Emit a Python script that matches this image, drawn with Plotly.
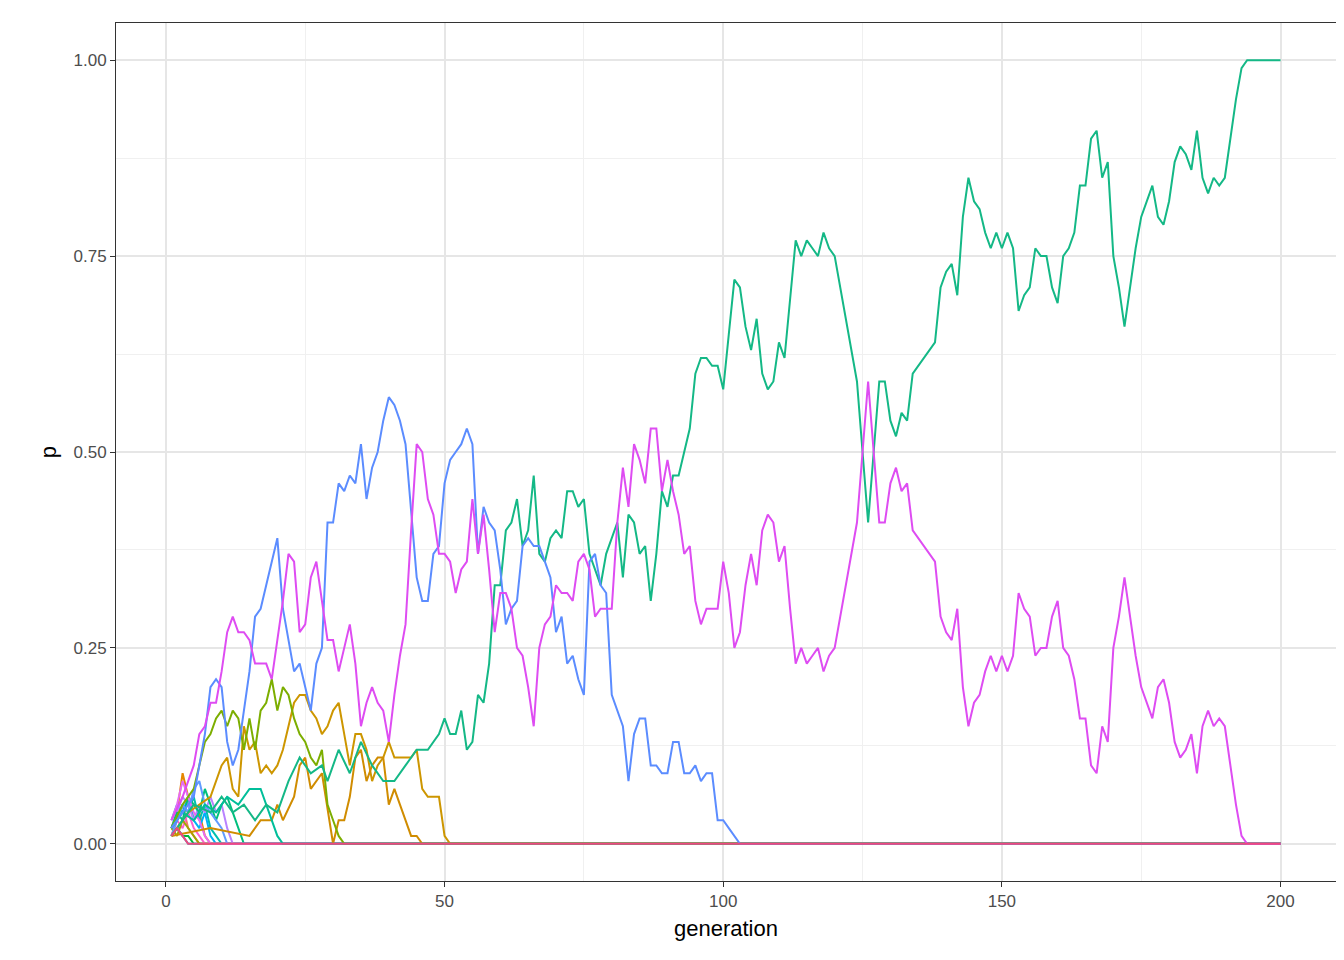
import plotly.graph_objects as go

# generation -> allele frequency at knot generations
green_gen = [1, 3, 5, 8, 10, 12, 14, 16, 18, 20, 22, 24, 26, 28, 29, 31, 33, 35, 37, 39, 41, 43, 45, 47, 49, 50,
             51, 52, 53, 54, 55, 56, 57, 58, 59, 60, 61, 62, 63, 64, 65, 66, 67, 68, 69, 70, 71, 72, 73, 74, 75,
             76, 77, 78, 79, 80, 81, 82, 83, 84, 85, 86, 87, 88, 89, 90, 91, 92, 93, 94, 95, 96, 97, 98, 99, 100,
             101, 102, 103, 104, 105, 106, 107, 108, 109, 110, 111, 112, 113, 114, 115, 116, 117, 118, 119, 120,
             122, 124, 125, 126, 127, 128, 129, 130, 131, 132, 133, 134, 138, 139, 140, 141, 142, 143, 144, 145,
             146, 147, 148, 149, 150, 151, 152, 153, 154, 155, 156, 157, 158, 159, 160, 161, 162, 163, 164, 165,
             166, 167, 168, 169, 170, 171, 172, 173, 174, 175, 176, 177, 178, 179, 180, 181, 182, 183, 184, 185,
             186, 187, 188, 189, 190, 191, 192, 193, 194, 200]
green_p = [0.01, 0.03, 0.05, 0.04, 0.06, 0.04, 0.05, 0.03, 0.05, 0.04, 0.08, 0.11, 0.09, 0.1, 0.08, 0.12, 0.09,
           0.13, 0.1, 0.08, 0.08, 0.1, 0.12, 0.12, 0.14, 0.16, 0.14, 0.14, 0.17, 0.12, 0.13, 0.19, 0.18, 0.23,
           0.33, 0.33, 0.4, 0.41, 0.44, 0.38, 0.4, 0.47, 0.37, 0.36, 0.39, 0.4, 0.39, 0.45, 0.45, 0.43, 0.44,
           0.37, 0.35, 0.33, 0.37, 0.39, 0.41, 0.34, 0.42, 0.41, 0.37, 0.38, 0.31, 0.37, 0.45, 0.43, 0.47, 0.47,
           0.5, 0.53, 0.6, 0.62, 0.62, 0.61, 0.61, 0.58, 0.65, 0.72, 0.71, 0.66, 0.63, 0.67, 0.6, 0.58, 0.59,
           0.64, 0.62, 0.7, 0.77, 0.75, 0.77, 0.76, 0.75, 0.78, 0.76, 0.75, 0.67, 0.59, 0.5, 0.41, 0.5, 0.59,
           0.59, 0.54, 0.52, 0.55, 0.54, 0.6, 0.64, 0.71, 0.73, 0.74, 0.7, 0.8, 0.85, 0.82, 0.81, 0.78, 0.76,
           0.78, 0.76, 0.78, 0.76, 0.68, 0.7, 0.71, 0.76, 0.75, 0.75, 0.71, 0.69, 0.75, 0.76, 0.78, 0.84, 0.84,
           0.9, 0.91, 0.85, 0.87, 0.75, 0.71, 0.66, 0.71, 0.76, 0.8, 0.82, 0.84, 0.8, 0.79, 0.82, 0.87, 0.89,
           0.88, 0.86, 0.91, 0.85, 0.83, 0.85, 0.84, 0.85, 0.9, 0.95, 0.99, 1.0, 1.0]

magenta_gen = list(range(1, 121)) + [122, 124, 125, 126, 127, 128, 129, 130, 131, 132, 133, 134] + list(range(138, 195)) + [200]
magenta_gen = [g for g in magenta_gen if g not in (2, 4)]
magenta_p = [0.03, 0.06, 0.1, 0.14, 0.15, 0.18, 0.18, 0.22, 0.27, 0.29, 0.27, 0.27, 0.26, 0.23, 0.23, 0.23, 0.21,
             0.26, 0.31, 0.37, 0.36, 0.27, 0.28, 0.34, 0.36, 0.31, 0.26, 0.26, 0.22, 0.25, 0.28, 0.23, 0.15, 0.18,
             0.2, 0.18, 0.17, 0.13, 0.19, 0.24, 0.28, 0.4, 0.51, 0.5, 0.44, 0.42, 0.37, 0.37, 0.36, 0.32, 0.35,
             0.36, 0.44, 0.37, 0.42, 0.35, 0.27, 0.32, 0.32, 0.3, 0.25, 0.24, 0.2, 0.15, 0.25, 0.28, 0.29, 0.33,
             0.32, 0.32, 0.31, 0.36, 0.37, 0.35, 0.29, 0.3, 0.3, 0.3, 0.41, 0.48, 0.43, 0.51, 0.49, 0.46, 0.53,
             0.53, 0.45, 0.49, 0.45, 0.42, 0.37, 0.38, 0.31, 0.28, 0.3, 0.3, 0.3, 0.36, 0.32, 0.25, 0.27, 0.33,
             0.37, 0.33, 0.4, 0.42, 0.41, 0.36, 0.38, 0.3, 0.23, 0.25, 0.23, 0.24, 0.25, 0.22, 0.24, 0.25,
             0.33, 0.41, 0.5, 0.59, 0.5, 0.41, 0.41, 0.46, 0.48, 0.45, 0.46, 0.4,
             0.36, 0.29, 0.27, 0.26, 0.3, 0.2, 0.15, 0.18, 0.19, 0.22, 0.24, 0.22, 0.24, 0.22, 0.24, 0.32, 0.3,
             0.29, 0.24, 0.25, 0.25, 0.29, 0.31, 0.25, 0.24, 0.21, 0.16, 0.16, 0.1, 0.09, 0.15, 0.13, 0.25, 0.29,
             0.34, 0.29, 0.24, 0.2, 0.18, 0.16, 0.2, 0.21, 0.18, 0.13, 0.11, 0.12, 0.14, 0.09, 0.15, 0.17, 0.15,
             0.16, 0.15, 0.1, 0.05, 0.01, 0.0, 0.0]

blue_gen = [1, 3, 5] + list(range(6, 104)) + [200]
blue_p = [0.02, 0.04, 0.06, 0.1, 0.14, 0.2, 0.21, 0.2, 0.13, 0.1, 0.12, 0.17, 0.22, 0.29, 0.3, 0.33, 0.36, 0.39,
          0.3, 0.26, 0.22, 0.23, 0.2, 0.17, 0.23, 0.25, 0.41, 0.41, 0.46, 0.45, 0.47, 0.46, 0.51, 0.44, 0.48,
          0.5, 0.54, 0.57, 0.56, 0.54, 0.51, 0.42, 0.34, 0.31, 0.31, 0.37, 0.38, 0.46, 0.49, 0.5, 0.51, 0.53,
          0.51, 0.37, 0.43, 0.41, 0.4, 0.35, 0.28, 0.3, 0.31, 0.38, 0.39, 0.38, 0.38, 0.36, 0.34, 0.27, 0.29,
          0.23, 0.24, 0.21, 0.19, 0.36, 0.37, 0.33, 0.32, 0.19, 0.17, 0.15, 0.08, 0.14, 0.16, 0.16, 0.1, 0.1,
          0.09, 0.09, 0.13, 0.13, 0.09, 0.09, 0.1, 0.08, 0.09, 0.09, 0.03, 0.03, 0.02, 0.01, 0.0, 0.0]

olive_gen = [1, 3, 5] + list(range(6, 33)) + [200]
olive_p = [0.02, 0.05, 0.07, 0.1, 0.13, 0.14, 0.16, 0.17, 0.15, 0.17, 0.16, 0.12, 0.16, 0.12, 0.17, 0.18, 0.21,
           0.17, 0.2, 0.19, 0.16, 0.14, 0.13, 0.11, 0.1, 0.12, 0.05, 0.03, 0.01, 0.0, 0.0]

orange_a_gen = [1, 4, 8] + list(range(10, 52)) + [200]
orange_a_p = [0.01, 0.04, 0.06, 0.1, 0.11, 0.07, 0.06, 0.15, 0.12, 0.13, 0.09, 0.1, 0.09, 0.1, 0.12, 0.15, 0.18,
              0.19, 0.19, 0.17, 0.16, 0.14, 0.15, 0.17, 0.18, 0.14, 0.1, 0.14, 0.14, 0.12, 0.08, 0.1, 0.11, 0.13,
              0.11, 0.11, 0.11, 0.11, 0.12, 0.07, 0.06, 0.06, 0.06, 0.01, 0.0, 0.0]

orange_b_gen = [1, 8, 15, 17, 19, 20, 21, 23, 24, 25, 26, 27, 28, 30, 31, 32, 33, 34, 35, 36, 37, 38, 39, 40, 41,
                42, 43, 44, 45, 46, 200]
orange_b_p = [0.01, 0.02, 0.01, 0.03, 0.03, 0.05, 0.03, 0.06, 0.1, 0.11, 0.07, 0.08, 0.09, 0.0, 0.03, 0.03, 0.06,
              0.11, 0.12, 0.08, 0.1, 0.11, 0.11, 0.05, 0.07, 0.05, 0.03, 0.01, 0.01, 0.0, 0.0]

teal_gen = [1, 3, 5, 7, 9, 11, 13, 15, 17, 18, 19, 20, 21, 200]
teal_p = [0.02, 0.04, 0.03, 0.05, 0.04, 0.06, 0.05, 0.07, 0.07, 0.05, 0.03, 0.01, 0.0, 0.0]

# short-lived alleles lost in the first few generations
short_colors = ["#F8766D", "#E58700", "#00BA38", "#00C0AF", "#00BCD8", "#00B0F6", "#B983FF", "#FD61D1",
                "#A3A500", "#00BF7D", "#619CFF", "#E76BF3"]
short_gen = [[1, 2, 3, 4, 5, 6, 200], [1, 2, 3, 4, 5, 6, 7, 8, 200], [1, 2, 3, 4, 5, 200],
             [1, 2, 3, 4, 5, 6, 7, 8, 9, 10, 200], [1, 2, 3, 4, 200], [1, 2, 3, 4, 5, 6, 7, 8, 9, 200],
             [1, 2, 3, 4, 5, 6, 7, 8, 9, 10, 11, 12, 200], [1, 2, 3, 4, 5, 6, 7, 200],
             [1, 2, 3, 4, 5, 6, 200], [1, 2, 3, 4, 5, 6, 7, 8, 9, 10, 11, 12, 13, 14, 200],
             [1, 2, 3, 4, 5, 6, 7, 8, 9, 10, 11, 200], [1, 2, 3, 4, 5, 6, 7, 8, 200]]
short_p = [[0.01, 0.03, 0.05, 0.02, 0.01, 0.0, 0.0], [0.02, 0.04, 0.09, 0.06, 0.03, 0.04, 0.01, 0.0, 0.0],
           [0.01, 0.02, 0.01, 0.01, 0.0, 0.0], [0.02, 0.03, 0.05, 0.04, 0.06, 0.03, 0.05, 0.02, 0.01, 0.0, 0.0],
           [0.01, 0.02, 0.01, 0.0, 0.0], [0.03, 0.05, 0.04, 0.06, 0.03, 0.02, 0.04, 0.01, 0.0, 0.0],
           [0.02, 0.04, 0.06, 0.05, 0.03, 0.05, 0.04, 0.06, 0.04, 0.05, 0.02, 0.0, 0.0],
           [0.01, 0.03, 0.02, 0.04, 0.02, 0.01, 0.0, 0.0], [0.02, 0.01, 0.03, 0.02, 0.01, 0.0, 0.0],
           [0.02, 0.04, 0.03, 0.06, 0.05, 0.04, 0.07, 0.05, 0.03, 0.05, 0.06, 0.04, 0.02, 0.0, 0.0],
           [0.01, 0.03, 0.05, 0.04, 0.07, 0.08, 0.05, 0.04, 0.03, 0.02, 0.0, 0.0],
           [0.03, 0.05, 0.08, 0.06, 0.04, 0.03, 0.01, 0.0, 0.0]]

pink_gen = [1, 2, 3, 4, 200]
pink_p = [0.01, 0.02, 0.01, 0.0, 0.0]

fig = go.Figure()


def add_line(xs, ys, color):
    fig.add_trace(go.Scatter(x=xs, y=ys, mode="lines", line={"color": color, "width": 2}, showlegend=False))


for xs, ys, c in zip(short_gen, short_p, short_colors):
    add_line(xs, ys, c)
add_line(orange_a_gen, orange_a_p, "#CD9600")
add_line(orange_b_gen, orange_b_p, "#D08C00")
add_line(olive_gen, olive_p, "#7CAE00")
add_line(teal_gen, teal_p, "#00BE9A")
add_line(green_gen, green_p, "#14B886")
add_line(blue_gen, blue_p, "#5B8CFF")
add_line(magenta_gen, magenta_p, "#DE4CF2")
add_line(pink_gen, pink_p, "#F0487F")

axis_common = dict(
    showgrid=True, gridcolor="#E6E6E6", gridwidth=1.6,
    showline=True, linecolor="#333333", linewidth=1, mirror=True,
    ticks="outside", ticklen=5, tickcolor="#333333",
    tickfont={"size": 17, "color": "#4D4D4D"}, zeroline=False, automargin=False,
)
fig.update_xaxes(range=[-8.95, 209.95], tickvals=[0, 50, 100, 150, 200],
                 minor=dict(tickvals=[25, 75, 125, 175], showgrid=True, gridcolor="#F0F0F0", gridwidth=1),
                 title={"text": "generation", "font": {"size": 22, "color": "black"}, "standoff": 10},
                 **axis_common)
fig.update_yaxes(range=[-0.0475, 1.0475], tickvals=[0, 0.25, 0.5, 0.75, 1.0], tickformat=".2f",
                 minor=dict(tickvals=[0.125, 0.375, 0.625, 0.875], showgrid=True, gridcolor="#F0F0F0", gridwidth=1),
                 title={"text": "p", "font": {"size": 22, "color": "black"}, "standoff": 10},
                 **axis_common)
fig.update_layout(
    width=1344, height=960,
    margin=dict(l=108, r=16, t=15, b=87),
    plot_bgcolor="white", paper_bgcolor="white",
    font={"family": "Liberation Sans, Arial, sans-serif"},
)
fig.write_html("out.html")
